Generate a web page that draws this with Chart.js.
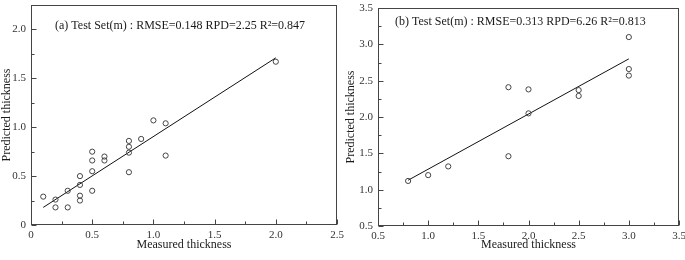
<!DOCTYPE html>
<html>
<head>
<meta charset="utf-8">
<script src="https://cdn.jsdelivr.net/npm/chart.js@4.4.1/dist/chart.umd.min.js"></script>
<style>
  html, body { margin: 0; padding: 0; background: #fff; overflow: hidden; }
  .box { position: absolute; top: 0; height: 260px; }
  #boxA { left: 0; width: 345px; }
  #boxB { left: 344px; width: 343px; }
</style>
</head>
<body>
<div class="box" id="boxA"><canvas id="chartA" width="345" height="260"></canvas></div>
<div class="box" id="boxB"><canvas id="chartB" width="343" height="260"></canvas></div>
<script>
// (a) test set
const measuredA = [0.1, 0.2, 0.2, 0.3, 0.3, 0.4, 0.4, 0.4, 0.4, 0.5, 0.5, 0.5, 0.5, 0.6, 0.6, 0.8, 0.8, 0.8, 0.8, 0.9, 1.0, 1.1, 1.1, 2.0];
const predictedA = [0.29, 0.26, 0.18, 0.35, 0.18, 0.50, 0.41, 0.30, 0.25, 0.75, 0.66, 0.55, 0.35, 0.70, 0.66, 0.86, 0.80, 0.74, 0.54, 0.88, 1.07, 1.04, 0.71, 1.67];
const fitXA = [0.1, 2.0];
const fitYA = [0.18, 1.71];
const xTicksA = [0, 0.5, 1.0, 1.5, 2.0, 2.5];
const yTicksA = [0, 0.5, 1.0, 1.5, 2.0];
const noteA = '(a) Test Set(m) : RMSE=0.148 RPD=2.25 R\u00b2=0.847';

// (b) test set
const measuredB = [0.8, 1.0, 1.2, 1.8, 1.8, 2.0, 2.0, 2.5, 2.5, 3.0, 3.0, 3.0];
const predictedB = [1.12, 1.20, 1.32, 1.46, 2.41, 2.38, 2.05, 2.37, 2.29, 3.10, 2.66, 2.57];
const fitXB = [0.8, 3.0];
const fitYB = [1.13, 2.80];
const xTicksB = [0.5, 1.0, 1.5, 2.0, 2.5, 3.0, 3.5];
const yTicksB = [0.5, 1.0, 1.5, 2.0, 2.5, 3.0, 3.5];
const noteB = '(b) Test Set(m) : RMSE=0.313 RPD=6.26 R\u00b2=0.813';

const xTitle = 'Measured thickness';
const yTitle = 'Predicted thickness';

const SERIF = '"Liberation Serif", "Times New Roman", serif';
const AXIS_COLOR = '#444';

// frame box, inward ticks (major + minor) and the note inside the plot
const framePlugin = {
  id: 'frame',
  afterDatasetsDraw(chart, args, opts) {
    const ctx = chart.ctx;
    const a = chart.chartArea;
    const L = Math.round(a.left) + 0.5, R = Math.round(a.right) - 0.5;
    const T = Math.round(a.top) + 0.5, B = Math.round(a.bottom) - 0.5;
    ctx.save();
    ctx.strokeStyle = AXIS_COLOR;
    ctx.lineWidth = 1;
    ctx.strokeRect(L, T, R - L, B - T);

    const xs = chart.scales.x, ys = chart.scales.y;
    const tick = (x1, y1, x2, y2) => { ctx.beginPath(); ctx.moveTo(x1, y1); ctx.lineTo(x2, y2); ctx.stroke(); };
    const xt = opts.xTicks, yt = opts.yTicks;
    xt.forEach((v, i) => {
      const px = Math.round(xs.getPixelForValue(v)) + 0.5;
      tick(px, B, px, B - 5);
      if (i < xt.length - 1) {
        const m = Math.round(xs.getPixelForValue((v + xt[i + 1]) / 2)) + 0.5;
        tick(m, B, m, B - 3);
      }
    });
    yt.forEach((v, i) => {
      const py = Math.round(ys.getPixelForValue(v)) + 0.5;
      tick(L, py, L + 5, py);
      const next = i < yt.length - 1 ? yt[i + 1] : null;
      if (next !== null) {
        const m = Math.round(ys.getPixelForValue((v + next) / 2)) + 0.5;
        tick(L, m, L + 3, m);
      } else if (ys.max > v) {
        const step = v - yt[i - 1];
        const mv = v + step / 2;
        if (mv < ys.max) {
          const m = Math.round(ys.getPixelForValue(mv)) + 0.5;
          tick(L, m, L + 3, m);
        }
      }
    });

    ctx.fillStyle = '#1a1a1a';
    ctx.font = '12px ' + SERIF;
    ctx.textAlign = 'left';
    ctx.textBaseline = 'middle';
    ctx.fillText(opts.note, a.left + opts.dx, a.top + opts.dy);
    ctx.restore();
  }
};

function fmt(v) {
  return v === 0 ? '0' : v.toFixed(1);
}

// fixed axis size, no label overhang padding
function fixSize(s, w, h) {
  if (w !== null) s.width = w;
  if (h !== null) s.height = h;
  s.paddingTop = 0;
  s.paddingBottom = 0;
  s.paddingLeft = 0;
  s.paddingRight = 0;
}

function makeChart(id, xs, ys, fx, fy, xTicks, yTicks, xMin, xMax, yMin, yMax, yWidth, xHeight, pad, note, dx, dy) {
  const pts = xs.map((x, i) => ({ x: x, y: ys[i] }));
  const fit = fx.map((x, i) => ({ x: x, y: fy[i] }));
  return new Chart(document.getElementById(id), {
    type: 'scatter',
    data: {
      datasets: [
        {
          data: pts,
          pointStyle: 'circle',
          pointRadius: 2.6,
          pointBorderWidth: 1,
          pointBorderColor: '#444',
          pointBackgroundColor: 'rgba(0,0,0,0)',
          showLine: false
        },
        {
          type: 'line',
          data: fit,
          borderColor: '#111',
          borderWidth: 1,
          pointRadius: 0,
          fill: false
        }
      ]
    },
    options: {
      responsive: false,
      animation: false,
      layout: { padding: pad },
      plugins: {
        legend: { display: false },
        tooltip: { enabled: false },
        frame: { xTicks: xTicks, yTicks: yTicks, note: note, dx: dx, dy: dy }
      },
      scales: {
        x: {
          type: 'linear',
          min: xMin,
          max: xMax,
          grid: { display: false, drawTicks: false },
          border: { display: false },
          afterBuildTicks: s => { s.ticks = xTicks.map(v => ({ value: v })); },
          afterFit: s => fixSize(s, null, xHeight),
          ticks: {
            padding: 4,
            color: '#333',
            font: { family: SERIF, size: 11 },
            callback: v => fmt(v)
          },
          title: {
            display: true,
            text: xTitle,
            color: '#1a1a1a',
            padding: { top: 0, bottom: 8 },
            font: { family: SERIF, size: 12 }
          }
        },
        y: {
          type: 'linear',
          min: yMin,
          max: yMax,
          grid: { display: false, drawTicks: false },
          border: { display: false },
          afterBuildTicks: s => { s.ticks = yTicks.map(v => ({ value: v })); },
          afterFit: s => fixSize(s, yWidth, null),
          ticks: {
            padding: 5,
            color: '#333',
            font: { family: SERIF, size: 11 },
            callback: v => fmt(v)
          },
          title: {
            display: true,
            text: yTitle,
            color: '#1a1a1a',
            padding: 0,
            font: { family: SERIF, size: 12 }
          }
        }
      }
    },
    plugins: [framePlugin]
  });
}

makeChart('chartA', measuredA, predictedA, fitXA, fitYA, xTicksA, yTicksA, 0, 2.5, 0, 2.25,
  31, 35, { left: 0, top: 0, right: 8, bottom: 0 }, noteA, 24, 21);
makeChart('chartB', measuredB, predictedB, fitXB, fitYB, xTicksB, yTicksB, 0.5, 3.5, 0.5, 3.5,
  34, 34, { left: 0, top: 8, right: 8, bottom: 0 }, noteB, 17, 14);
</script>
</body>
</html>
